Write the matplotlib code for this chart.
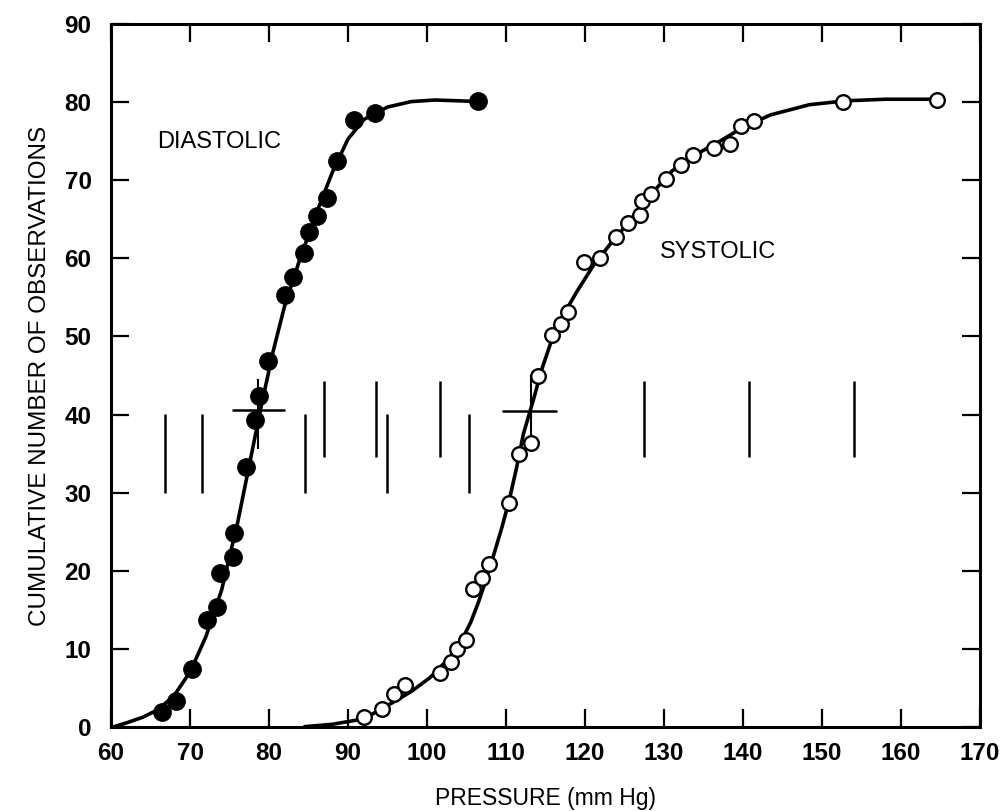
import matplotlib
matplotlib.use("Agg")
import matplotlib.pyplot as plt

plt.rcParams["font.family"] = ["Liberation Sans", "DejaVu Sans"]

DIA_X = [66.5, 68.2, 70.3, 72.1, 73.4, 73.8, 75.4, 75.6, 77.1, 78.2, 78.7,
         79.9, 82.0, 83.1, 84.4, 85.0, 86.1, 87.4, 88.6, 90.8, 93.4, 106.4]
DIA_Y = [1.9, 3.3, 7.4, 13.7, 15.3, 19.7, 21.8, 24.8, 33.3, 39.3, 42.4,
         46.8, 55.3, 57.6, 60.7, 63.4, 65.5, 67.8, 72.5, 77.8, 78.7, 80.2]

SYS_X = [92.0, 94.3, 95.8, 97.2, 101.6, 103.0, 103.8, 104.9, 105.8, 107.0,
         107.9, 110.4, 111.6, 113.2, 114.1, 115.8, 117.0, 117.9, 119.9, 121.9,
         123.9, 125.5, 126.9, 127.2, 128.3, 130.2, 132.1, 133.7, 136.3, 138.4,
         139.7, 141.4, 152.7, 164.6]
SYS_Y = [1.3, 2.3, 4.2, 5.3, 6.9, 8.3, 10.0, 11.1, 17.7, 19.1,
         20.8, 28.6, 35.0, 36.4, 44.9, 50.2, 51.6, 53.1, 59.6, 60.1,
         62.8, 64.5, 65.6, 67.4, 68.2, 70.2, 72.0, 73.3, 74.1, 74.7,
         77.0, 77.6, 80.0, 80.3]

# fitted curves
DIA_CURVE_X = [60.4, 62, 64, 66, 68, 70, 72, 74, 76, 77.5, 79, 80.5, 82, 84,
               86, 88, 90, 92, 95, 98, 101, 104, 106.4]
DIA_CURVE_Y = [0.0, 0.5, 1.2, 2.2, 4.0, 7.0, 11.5, 17.5, 26.0, 33.5, 41.0, 48.0,
               54.0, 60.2, 65.8, 71.0, 75.3, 77.8, 79.4, 80.1, 80.3, 80.2, 80.1]

SYS_CURVE_X = [84.5, 88, 92, 95.5, 98, 100.4, 103, 104.5, 105.5, 106.5, 107.5,
               108.5, 109.5, 110.4, 111.3, 112.2, 113.5, 114.5, 115.6, 117, 119,
               121, 123, 125, 128, 131, 134, 136.7, 140, 143.5, 148.4, 153, 158,
               164.6]
SYS_CURVE_Y = [0.0, 0.3, 1.0, 3.0, 4.5, 6.3, 9.0, 11.3, 13.3, 15.9, 18.9,
               22.2, 25.6, 29.0, 33.0, 37.5, 42.0, 45.7, 49.0, 52.3, 55.8,
               59.0, 61.6, 64.0, 67.8, 71.2, 73.3, 74.8, 76.8, 78.4, 79.7,
               80.2, 80.4, 80.4]

# short vertical bars in the middle band
LOW_BAR_X = [66.8, 71.5, 84.6, 94.9, 105.3]
LOW_BAR_SPAN = (30.0, 40.1)
HIGH_BAR_X = [87.0, 93.6, 101.7, 127.5, 140.8, 154.0]
HIGH_BAR_SPAN = (34.6, 44.3)

# crosshair markers: centre x, centre y, x span, y span
DIA_CROSS = (78.6, 40.6, (75.3, 82.0), (35.6, 44.6))
SYS_CROSS = (113.2, 40.5, (109.5, 116.5), (36.0, 45.0))

X_TICKS = list(range(60, 171, 10))
Y_TICKS = list(range(0, 91, 10))


def main():
    fig = plt.figure(figsize=(10, 8.11), dpi=100)
    ax = fig.add_axes([0.111, 0.104, 0.869, 0.866])

    lw = 2.6
    ax.plot(DIA_CURVE_X, DIA_CURVE_Y, color="black", lw=lw, zorder=2,
            solid_capstyle="round", solid_joinstyle="round")
    ax.plot(SYS_CURVE_X, SYS_CURVE_Y, color="black", lw=lw, zorder=2,
            solid_capstyle="round", solid_joinstyle="round")

    ax.plot(DIA_X, DIA_Y, "o", ms=12.5, mfc="black", mec="black", zorder=4)
    ax.plot(SYS_X, SYS_Y, "o", ms=10.5, mfc="white", mec="black", mew=1.7, zorder=4)

    ax.vlines(LOW_BAR_X, *LOW_BAR_SPAN, colors="black", lw=1.8, zorder=1)
    ax.vlines(HIGH_BAR_X, *HIGH_BAR_SPAN, colors="black", lw=1.8, zorder=1)

    for cx, cy, xs, ys in (DIA_CROSS, SYS_CROSS):
        ax.hlines(cy, *xs, colors="black", lw=1.8, zorder=3)
        ax.vlines(cx, *ys, colors="black", lw=1.5, zorder=3)

    ax.text(65.8, 74.9, "DIASTOLIC", fontsize=17, va="center", ha="left")
    ax.text(129.5, 60.8, "SYSTOLIC", fontsize=17, va="center", ha="left")

    ax.set_xlim(60, 170)
    ax.set_ylim(0, 90)
    ax.set_xticks(X_TICKS)
    ax.set_yticks(Y_TICKS)
    ax.tick_params(direction="in", length=13, width=1.6, top=True, right=True,
                   labelsize=17.5)
    ax.tick_params(axis="x", pad=11)
    ax.tick_params(axis="y", pad=14)
    for lab in ax.get_xticklabels() + ax.get_yticklabels():
        lab.set_fontweight("bold")
    for sp in ax.spines.values():
        sp.set_linewidth(2.2)

    ax.set_xlabel("PRESSURE (mm Hg)", fontsize=16.5, labelpad=16)
    ax.set_ylabel("CUMULATIVE NUMBER OF OBSERVATIONS", fontsize=17.5, labelpad=10)

    fig.savefig("out.png", dpi=100)
    plt.close(fig)


if __name__ == "__main__":
    main()
